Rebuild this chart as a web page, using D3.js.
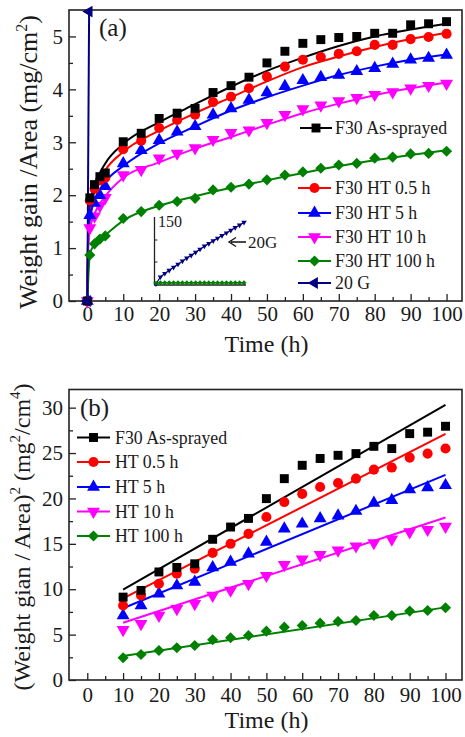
<!DOCTYPE html>
<html><head><meta charset="utf-8">
<script src="https://cdn.jsdelivr.net/npm/d3@7"></script>
<style>body{margin:0;background:#fff}svg{display:block}</style>
</head><body><svg id="c" width="465" height="737"></svg>
<script>
// ---------- DATA ----------
const seriesNamesA = ["F30 As-sprayed","F30 HT 0.5 h","F30 HT 5 h","F30 HT 10 h","F30 HT 100 h","20 G"];
const seriesNamesB = ["F30 As-sprayed","HT 0.5 h","HT 5 h","HT 10 h","HT 100 h"];
const timesA = [0,0.7,2,3.5,5,10,15,20,25,30,35,40,45,50,55,60,65,70,75,80,85,90,95,100];
const asSprayedA = [0,1.95,2.2,2.35,2.42,3.01,3.17,3.45,3.55,3.64,3.94,4.07,4.23,4.5,4.72,4.87,4.94,4.98,5.0,5.06,5.06,5.22,5.24,5.28];
const ht05A = [0,1.9,2.12,2.28,2.33,2.87,3.03,3.27,3.42,3.52,3.76,3.86,4.02,4.24,4.43,4.56,4.61,4.67,4.72,4.84,4.84,4.95,4.99,5.05];
const ht5A = [0,1.62,1.85,2.0,2.17,2.6,2.85,3.04,3.2,3.3,3.52,3.64,3.8,3.94,4.06,4.17,4.23,4.27,4.34,4.4,4.48,4.56,4.59,4.65];
const ht10A = [0,1.38,1.6,1.8,1.95,2.38,2.48,2.7,2.79,2.89,3.05,3.18,3.23,3.37,3.52,3.63,3.7,3.78,3.84,3.9,3.95,4.02,4.07,4.11];
const ht100A = [0,0.87,1.08,1.17,1.23,1.56,1.69,1.81,1.88,1.94,2.1,2.15,2.21,2.29,2.38,2.44,2.51,2.57,2.6,2.7,2.72,2.78,2.79,2.83];
const g20Times = [0,0.5];
const g20A = [0,5.47];
// parabolic fit curves
const fitTimesA = [0,0.2,0.5,1,2,5,10,20,30,40,50,60,70,80,90,100];
const asFitA  = [0,1.2,1.65,1.92,2.18,2.6,2.97,3.38,3.72,4.05,4.35,4.6,4.82,5.0,5.13,5.24];
const ht05FitA= [0,1.1,1.55,1.8,2.07,2.47,2.82,3.22,3.55,3.85,4.15,4.42,4.62,4.8,4.95,5.07];
const ht5FitA = [0,1.0,1.4,1.65,1.9,2.25,2.55,2.98,3.3,3.6,3.85,4.07,4.27,4.43,4.56,4.66];
const ht10FitA= [0,0.9,1.25,1.45,1.65,1.98,2.33,2.62,2.88,3.1,3.33,3.55,3.73,3.89,4.02,4.13];
const ht100FitTimes = [0,0.7,2,3.5,5,10,20,30,40,50,60,70,80,90,100];
const ht100FitA=[0,0.87,1.08,1.17,1.25,1.52,1.8,1.98,2.14,2.28,2.42,2.55,2.66,2.76,2.85];
// inset
const insetTimes = [0,5,10,15,20,25,30,35,40,45,50,55,60,65,70,75,80,85,90,95,100];
const insetG20 = [0,16,24,31,38,45,52,59,65,72,79,86,92,98,104,110,116,122,128,134,140];
const insetHT100 = [2,3,3,3,3,3,3,3,3,3,3,3,3,3,3,3,3,3,3,3,3];
// panel b
const timesB = [10,15,20,25,30,35,40,45,50,55,60,65,70,75,80,85,90,95,100];
const asB  = [9.13,9.87,11.9,12.4,12.8,15.5,16.85,17.8,19.98,22.18,23.65,24.4,24.75,24.94,25.74,25.49,27.14,27.3,27.95];
const ht05B= [8.21,9.32,10.6,11.7,12.26,14.0,15.0,16.1,17.95,19.6,20.5,21.26,21.7,22.18,23.17,23.4,24.5,24.94,25.5];
const ht5B = [7.11,8.21,9.5,10.4,10.8,12.4,13.0,13.9,15.2,16.67,17.2,17.8,18.1,18.6,19.5,19.8,20.97,21.2,21.44];
const ht10B= [5.53,6.2,7.1,7.85,8.4,9.3,9.87,10.6,11.5,12.7,13.3,13.8,14.3,14.75,15.1,15.5,16.3,16.56,16.9];
const ht100B=[2.45,2.81,3.25,3.55,3.8,4.43,4.65,4.9,5.38,5.82,6.0,6.26,6.45,6.56,7.11,7.11,7.59,7.66,7.96];
const fitTimesB = [10,100];
const asFitB=[9.95,30.3], ht05FitB=[9.0,27.1], ht5FitB=[7.9,22.6], ht10FitB=[6.3,17.9], ht100FitB=[2.65,8.0];
const xTicks = [0,10,20,30,40,50,60,70,80,90,100];
const yTicksA = [0,1,2,3,4,5];
const yTicksB = [0,5,10,15,20,25,30];

// ---------- STYLE ----------
const FONT = '"Liberation Serif", serif';
const TXT = "#1a1a1a";
const colors = ["#000000","#ff0000","#0000ff","#ff00ff","#008000","#000080"];
const shapes = ["square","circle","up","down","diamond","left"];
const svg = d3.select("#c");
function txt(parent, x, y, size, s){
  return parent.append("text").attr("x",x).attr("y",y).attr("font-size",size)
    .style("font-family",FONT).attr("fill",TXT).text(s||null);
}

function symPath(shape, s){
  const sc = s/80;
  if(shape==="square") return {d:d3.symbol(d3.symbolSquare, 80*sc)(), r:0};
  if(shape==="circle") return {d:d3.symbol(d3.symbolCircle, 80*sc)(), r:0};
  if(shape==="up") return {d:d3.symbol(d3.symbolTriangle, 72*sc)(), r:0};
  if(shape==="down") return {d:d3.symbol(d3.symbolTriangle, 72*sc)(), r:180};
  if(shape==="left") return {d:d3.symbol(d3.symbolTriangle, 60*sc)(), r:-90};
  if(shape==="diamond") return {d:d3.symbol(d3.symbolSquare, 62*sc)(), r:45};
}
function drawMarkers(g, xs, ys, x, y, i, size, color){
  const p = symPath(shapes[i], size||80);
  g.selectAll(null).data(xs.map((t,k)=>[t,ys[k]])).join("path")
   .attr("d",p.d).attr("fill",color||colors[i])
   .attr("transform",d=>`translate(${x(d[0])},${y(d[1])}) rotate(${p.r})`);
}
function drawLine(g, xs, ys, x, y, i, curve, w){
  g.append("path").datum(xs.map((t,k)=>[t,ys[k]]))
   .attr("fill","none").attr("stroke",colors[i]).attr("stroke-width",w||2)
   .attr("d",d3.line().x(d=>x(d[0])).y(d=>y(d[1])).curve(curve||d3.curveLinear));
}
function frameAxes(x, y, top, bottom, left, right, yMajor, yMinorStep, labelGap, clipId){
  const g = svg.append("g");
  const xa = d3.axisBottom(x).tickValues(xTicks).tickSize(-7).tickPadding(labelGap).tickFormat(d3.format("d"));
  const xm = d3.axisBottom(x).tickValues(xTicks.slice(0,-1).map(v=>v+5)).tickSize(-4).tickFormat("");
  g.append("g").attr("transform",`translate(0,${bottom})`).call(xa);
  g.append("g").attr("transform",`translate(0,${bottom})`).call(xm);
  const ymn = d3.range(0, y.domain()[1], yMinorStep).filter(v=>!yMajor.includes(v));
  const ya = d3.axisLeft(y).tickValues(yMajor).tickSize(-7).tickPadding(6).tickFormat(d3.format("d"));
  const ym = d3.axisLeft(y).tickValues(ymn).tickSize(-4).tickFormat("");
  g.append("g").attr("transform",`translate(${left},0)`).call(ya);
  g.append("g").attr("transform",`translate(${left},0)`).call(ym);
  g.selectAll(".domain").remove();
  g.selectAll(".tick line").attr("stroke","#222").attr("stroke-width",1.3);
  g.selectAll(".tick text").attr("fill",TXT).attr("font-size",21).style("font-family",FONT);
  g.append("rect").attr("x",left).attr("y",top).attr("width",right-left).attr("height",bottom-top)
   .attr("fill","none").attr("stroke","#222").attr("stroke-width",1.6);
  svg.append("clipPath").attr("id",clipId).append("rect").attr("x",left).attr("y",top).attr("width",right-left).attr("height",bottom-top);
}

// ---------- PANEL A ----------
const aL=69,aR=462,aT=10,aB=301;
const xA = d3.scaleLinear().domain([-5.1,104.3]).range([aL,aR]);
const yA = d3.scaleLinear().domain([0,5.5]).range([aB,aT]);
frameAxes(xA,yA,aT,aB,aL,aR,yTicksA,0.5,5,"clipA");
const gA = svg.append("g").attr("clip-path","url(#clipA)");
const dataA=[asSprayedA,ht05A,ht5A,ht10A,ht100A];
const fitsA=[[fitTimesA,asFitA],[fitTimesA,ht05FitA],[fitTimesA,ht5FitA],[fitTimesA,ht10FitA],[ht100FitTimes,ht100FitA]];
fitsA.forEach((f,i)=>drawLine(gA,f[0],f[1],xA,yA,i,d3.curveMonotoneX,2));
drawLine(gA,g20Times,g20A,xA,yA,5,d3.curveLinear,2);
const gAm = svg.append("g");
[4,3,2,1,0].forEach(i=>drawMarkers(gAm,timesA,dataA[i],xA,yA,i));
drawMarkers(gAm,g20Times,g20A,xA,yA,5);

// inset
const ix = d3.scaleLinear().domain([0,100]).range([156,244]);
const iy = d3.scaleLinear().domain([0,150]).range([284,218]);
const gi = svg.append("g");
gi.append("path").attr("d","M154.5,217 V285 H246").attr("fill","none").attr("stroke","#222").attr("stroke-width",1.3);
[50,100].forEach(v=>gi.append("line").attr("x1",154.5).attr("x2",157.5).attr("y1",iy(v)).attr("y2",iy(v)).attr("stroke","#222"));
txt(gi,158,227,16,"150");
drawLine(gi,insetTimes,insetG20,ix,iy,5,d3.curveLinear,1.2);
drawLine(gi,insetTimes,insetHT100,ix,iy,4,d3.curveLinear,1.5);
drawMarkers(gi,insetTimes,insetG20,ix,iy,3,14,colors[5]);
drawMarkers(gi,insetTimes,insetHT100,ix,iy,4,16);
gi.append("path").attr("d","M246,242 H231 M236,237.5 L229,242 L236,246.5").attr("fill","none").attr("stroke","#111").attr("stroke-width",1.3);
txt(gi,248,248,17,"20G");

// legend A
const legYA=[128,188,213,237,261,283];
seriesNamesA.forEach((n,i)=>{
  const g=svg.append("g");
  const x0 = i===0?300:298, x1 = i===0?332:331;
  g.append("line").attr("x1",x0).attr("x2",x1).attr("y1",legYA[i]).attr("y2",legYA[i]).attr("stroke",colors[i]).attr("stroke-width",2);
  const p=symPath(shapes[i],80);
  g.append("path").attr("d",p.d).attr("fill",colors[i]).attr("transform",`translate(${(x0+x1)/2},${legYA[i]}) rotate(${p.r})`);
  txt(g,335,legYA[i]+6,17.8,n);
});
txt(svg,99,36,25,"(a)");
txt(svg,(aL+aR)/2+1,352,24,"Time (h)").attr("text-anchor","middle");
const tA = txt(svg,0,0,26).attr("transform","translate(37,162) rotate(-90)").attr("text-anchor","middle");
tA.append("tspan").text("Weight gain /Area (mg/cm");
tA.append("tspan").attr("font-size",16).attr("dy",-10).text("2");
tA.append("tspan").attr("dy",10).text(")");

// ---------- PANEL B ----------
const bL=69,bR=462,bT=389.5,bB=680;
const xB = d3.scaleLinear().domain([-5.1,104.6]).range([bL,bR]);
const yB = d3.scaleLinear().domain([0,32]).range([bB,bT]);
frameAxes(xB,yB,bT,bB,bL,bR,yTicksB,2.5,7,"clipB");
const gB = svg.append("g").attr("clip-path","url(#clipB)");
const dataB=[asB,ht05B,ht5B,ht10B,ht100B];
const fitsB=[asFitB,ht05FitB,ht5FitB,ht10FitB,ht100FitB];
fitsB.forEach((f,i)=>drawLine(gB,fitTimesB,f,xB,yB,i,d3.curveLinear,2));
const gBm = svg.append("g");
[4,3,2,1,0].forEach(i=>drawMarkers(gBm,timesB,dataB[i],xB,yB,i));
const legYB=[437.5,462,487,511.5,536];
seriesNamesB.forEach((n,i)=>{
  const g=svg.append("g");
  g.append("line").attr("x1",77).attr("x2",110).attr("y1",legYB[i]).attr("y2",legYB[i]).attr("stroke",colors[i]).attr("stroke-width",2);
  const p=symPath(shapes[i],80);
  g.append("path").attr("d",p.d).attr("fill",colors[i]).attr("transform",`translate(93.5,${legYB[i]}) rotate(${p.r})`);
  txt(g,115,legYB[i]+6,17.8,n);
});
txt(svg,80,416,25,"(b)");
txt(svg,(bL+bR)/2+1,728,24,"Time (h)").attr("text-anchor","middle");
const tB = txt(svg,0,0,24).attr("transform","translate(30,537) rotate(-90)").attr("text-anchor","middle");
tB.append("tspan").text("(Weight gian / Area)");
tB.append("tspan").attr("font-size",15).attr("dy",-10).text("2");
tB.append("tspan").attr("dy",10).text(" (mg");
tB.append("tspan").attr("font-size",15).attr("dy",-10).text("2");
tB.append("tspan").attr("dy",10).text("/cm");
tB.append("tspan").attr("font-size",15).attr("dy",-10).text("4");
tB.append("tspan").attr("dy",10).text(")");
</script></body></html>
